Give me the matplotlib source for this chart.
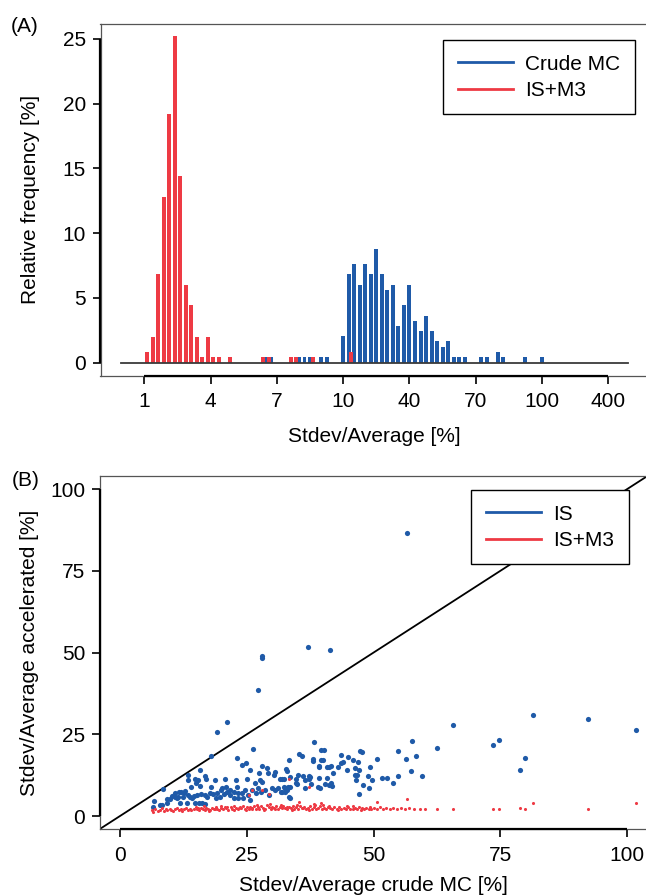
import matplotlib
matplotlib.use('Agg')
import matplotlib.pyplot as plt
from matplotlib.lines import Line2D

plt.rcParams['font.family'] = ['Liberation Sans', 'DejaVu Sans']
FS = 15
BLUE = '#1f5aa8'
RED = '#ee3a44'

# ---------------- Panel A data (histogram) ----------------
# x axis: linear within each decade, 3 tick units per decade, 12 bins per tick unit
hist_tick_labels = ['1', '4', '7', '10', '40', '70', '100', '400']
bins_per_tick = 12
crude_bins = [22, 23, 28, 29, 30, 32, 33, 36, 37, 38, 39, 40, 41, 42, 43, 44, 45, 46, 47,
              48, 49, 50, 51, 52, 53, 54, 55, 56, 57, 58, 61, 62, 64, 65, 69, 72]
crude_pct = [0.44, 0.44, 0.44, 0.44, 0.44, 0.44, 0.44, 2.04, 6.83, 7.62, 6.02, 7.62, 6.83,
             8.8, 6.83, 5.6, 6.02, 2.83, 4.43, 6.02, 3.24, 2.45, 3.63, 2.45, 1.65, 1.24,
             1.65, 0.44, 0.44, 0.44, 0.44, 0.44, 0.83, 0.44, 0.44, 0.44]
ism3_bins = [0, 1, 2, 3, 4, 5, 6, 7, 8, 9, 10, 11, 12, 13, 15, 21, 22, 26, 27, 30, 37]
ism3_pct = [0.83, 2.0, 6.83, 12.8, 19.2, 25.2, 14.4, 6.0, 4.43, 2.0, 0.44, 2.0, 0.44, 0.44,
            0.44, 0.44, 0.44, 0.44, 0.44, 0.44, 0.83]
hist_yticks = [0, 5, 10, 15, 20, 25]

# ---------------- Panel B data (scatter) ----------------
is_x = [56.6, 37.1, 41.4, 28.0, 28.1, 27.2, 21.2, 19.1, 65.6, 81.4, 92.4, 101.7, 73.6, 74.7,
        79.8, 78.9, 62.6, 57.5, 58.3, 54.9, 56.4, 57.3, 59.6, 54.8, 53.8, 52.6, 51.7, 50.6,
        49.8, 49.4, 49.1, 48.9, 47.9, 47.1, 47.4, 47.7, 47.0, 45.9, 44.9, 43.5, 44.0, 43.5,
        44.7, 42.9, 46.3, 47.1, 46.3, 46.7, 46.5, 42.0, 41.2, 41.6, 40.8, 39.3, 39.2, 39.6,
        40.1, 38.1, 38.1, 39.7, 40.2, 38.3, 35.3, 35.8, 33.3, 32.8, 32.9, 35.2, 36.0, 37.3,
        37.5, 37.3, 36.4, 34.7, 34.7, 34.9, 37.7, 36.5, 39.2, 40.8, 41.6, 41.2, 40.5, 41.9,
        39.1, 39.4, 33.5, 32.3, 31.6, 33.2, 33.5, 32.3, 32.6, 31.8, 33.6,
        26.2, 17.9, 23.1, 24.1, 24.9, 28.1, 28.9, 29.2, 27.5, 25.6, 30.3, 30.6, 15.8, 13.5,
        14.7, 15.3, 16.8, 18.7, 20.8, 22.8, 25.0, 26.6, 27.6, 28.1, 32.0, 32.5, 33.4, 8.4,
        6.8, 6.5, 7.9, 8.3, 9.3, 9.8, 10.3, 11.6, 12.0, 10.8, 11.3, 12.9, 12.5, 11.8, 13.4,
        13.8, 14.2, 13.3, 14.8, 15.5, 16.1, 16.8, 14.6, 15.1, 16.0, 16.7, 17.2, 17.8, 18.4,
        19.2, 19.0, 19.8, 20.6, 21.2, 21.7, 19.9, 20.2, 17.9,
        20.9, 21.7, 22.4, 23.0, 23.3, 24.0, 24.7, 25.3, 26.0, 26.8, 27.3, 27.9, 28.6, 29.3,
        29.9, 30.6, 31.1, 31.9, 32.9, 22.4, 23.3, 24.3, 25.6, 14.1, 15.0, 15.8, 17.0, 13.5,
        10.9, 12.6, 11.5, 9.2]
is_y = [86.7, 51.7, 50.9, 48.9, 48.2, 38.5, 28.7, 25.7, 27.9, 30.9, 29.8, 26.2, 21.6, 23.3,
        17.7, 14.2, 20.9, 23.1, 18.3, 19.9, 17.4, 13.8, 12.1, 12.1, 10.2, 11.5, 11.5, 17.4,
        10.9, 15.1, 8.7, 12.3, 9.4, 6.8, 19.8, 19.6, 16.6, 17.0, 18.0, 18.6, 16.4, 16.2,
        14.2, 14.9, 14.8, 14.1, 12.5, 12.7, 11.0, 13.2, 14.9, 15.3, 15.0, 15.3, 14.9, 17.1,
        17.2, 16.8, 17.3, 20.3, 20.3, 22.5, 18.9, 18.3, 17.0, 14.3, 13.9, 12.5, 12.2, 12.2,
        11.9, 11.2, 10.9, 11.3, 10.0, 9.8, 9.9, 8.5, 11.7, 11.6, 10.2, 9.4, 9.8, 9.2,
        9.0, 8.5, 11.9, 11.2, 11.2, 8.8, 9.0, 8.8, 7.2, 7.2, 5.5,
        20.5, 18.3, 17.7, 15.7, 16.3, 15.3, 14.7, 13.2, 13.2, 14.1, 12.5, 13.5, 14.2, 12.5,
        11.4, 11.0, 12.2, 11.0, 11.3, 11.0, 11.3, 10.0, 11.0, 10.4, 11.4, 8.7, 5.7, 8.4,
        4.7, 2.7, 3.4, 3.5, 5.1, 5.2, 6.1, 7.2, 7.4, 5.7, 5.4, 7.6, 5.9, 3.9, 6.4,
        5.9, 5.4, 4.1, 4.0, 4.0, 4.0, 3.8, 6.2, 6.4, 6.6, 6.4, 5.9, 7.1, 6.6,
        7.1, 5.4, 5.9, 6.6, 7.3, 6.4, 8.0, 8.5, 8.9,
        8.8, 8.0, 7.4, 9.0, 6.9, 6.9, 8.0, 6.4, 8.0, 6.9, 8.5, 7.4, 8.0, 6.4,
        8.5, 8.0, 8.5, 7.4, 8.0, 5.4, 5.4, 5.4, 4.9, 9.0, 10.0, 9.2, 11.2, 11.0,
        6.9, 6.9, 5.9, 3.9]

ism3_x = [6.3, 6.5, 7.0, 7.4, 7.9, 8.2, 8.6, 9.0, 9.3, 9.8, 10.1, 10.5, 10.9, 11.2, 11.6,
          12.0, 12.3, 12.7, 13.1, 13.4, 13.8, 14.1, 14.5, 14.9, 15.2, 15.6, 16.0, 16.3, 16.7,
          17.0, 17.4, 17.8, 18.1, 18.5, 18.9, 19.2, 19.6, 20.0, 20.3, 20.7, 21.0, 21.4, 21.8,
          22.1, 22.5, 22.8, 23.2, 23.6, 23.9, 24.3, 24.6, 25.0, 25.4, 25.7, 26.1, 26.4, 26.8,
          27.2, 27.5, 27.9, 28.2, 28.6, 29.0, 29.3, 29.7, 30.0, 30.4, 30.8, 31.1, 31.5, 31.9,
          32.2, 32.6, 33.0, 33.3, 33.7, 34.1, 34.4, 34.8, 35.2, 35.6, 35.9, 36.3, 36.7, 37.1,
          37.5, 37.9, 38.3, 38.7, 39.1, 39.5, 39.9, 40.3, 40.7, 41.1, 41.5, 41.9, 42.3, 42.8,
          43.2, 43.6, 44.1, 44.5, 45.0, 45.4, 45.9, 46.3, 46.8, 47.2, 47.7, 48.2, 48.6, 49.1,
          49.6, 50.1, 50.7, 51.3, 51.9, 52.5, 53.2, 53.9, 54.6, 55.4, 56.2, 57.1, 58.0, 59.1,
          60.2,
          15.4, 16.5, 17.6, 18.7, 19.9, 21.2, 22.4, 23.4, 24.8, 26.0, 27.0, 28.4, 29.5, 30.6,
          31.7, 32.9, 34.0, 35.0, 36.1, 37.3, 38.5, 40.0, 41.3, 43.0, 44.8, 46.0, 47.5, 49.3,
          35.3, 39.6, 50.6, 56.7, 38.3, 37.2, 33.3, 26.1, 25.5, 29.4, 28.1,
          62.5, 65.6, 73.6, 74.7, 78.9, 79.8, 81.4, 92.4, 101.7]
ism3_y = [1.9, 1.3, 2.2, 1.6, 1.8, 2.4, 1.5, 2.0, 1.7, 2.3, 1.9, 1.6, 2.1, 2.5, 1.8,
          2.2, 1.6, 2.0, 2.6, 1.9, 2.3, 1.7, 2.1, 2.8, 2.0, 1.8, 2.4, 2.1, 1.7,
          2.6, 2.2, 1.9, 2.5, 2.0, 2.9, 2.3, 1.8, 2.6, 2.1, 2.8, 2.4, 1.9, 2.7,
          2.2, 3.0, 2.5, 2.0, 2.8, 2.4, 3.1, 2.2, 2.7, 2.0, 2.9, 2.5, 3.2, 2.3,
          2.8, 2.1, 3.0, 2.6, 2.2, 3.3, 2.7, 2.3, 2.9, 2.5, 3.1, 2.2, 2.8, 2.4,
          3.0, 2.6, 2.1, 2.9, 2.5, 3.2, 2.3, 2.7, 2.0, 3.0, 2.4, 2.8, 2.2, 2.6,
          3.1, 2.3, 2.7, 2.0, 2.5, 3.0, 2.2, 2.6, 2.1, 2.9, 2.4, 2.0, 2.7, 2.3,
          2.9, 2.1, 2.5, 2.2, 2.8, 2.3, 2.0, 2.6, 2.2, 2.9, 2.4, 2.1, 2.6, 2.3,
          2.0, 2.5, 2.2, 2.7, 2.1, 2.4, 2.0, 2.6, 2.2, 2.4, 2.1, 2.5, 2.0, 2.3,
          2.1,
          2.5, 3.0, 1.6, 2.2, 3.1, 2.9, 1.8, 2.6, 1.9, 2.1, 3.3, 1.9, 3.6, 2.0,
          3.4, 2.7, 1.9, 3.5, 2.6, 1.9, 3.4, 3.3, 3.2, 1.8, 3.1, 3.2, 1.9, 2.8,
          4.3, 4.0, 4.2, 5.1, 3.8, 8.8, 11.4, 8.0, 6.4, 6.6, 8.0,
          2.2, 2.0, 2.0, 2.0, 2.4, 2.2, 4.1, 2.0, 3.9]
scatter_ticks = [0, 25, 50, 75, 100]


def r_axis_lines(ax, xr, yr):
    """R-style axis lines spanning the tick range, plus a grey box."""
    for s in ax.spines.values():
        s.set_color('#555555')
        s.set_linewidth(0.9)
    x0, x1 = ax.get_xlim()
    y0, y1 = ax.get_ylim()
    ax.plot([x0, x0], yr, color='black', lw=1.6, clip_on=False, zorder=6,
            solid_capstyle='butt')
    ax.plot(xr, [y0, y0], color='black', lw=1.6, clip_on=False, zorder=6,
            solid_capstyle='butt')
    ax.tick_params(direction='out', length=5.5, width=1.2, labelsize=FS, color='black')


fig = plt.figure(figsize=(6.46, 8.96), dpi=100)

# ---------------- Panel A ----------------
axA = fig.add_axes([100.5 / 646, 1 - 375.6 / 896, 547.8 / 646, 351.5 / 896])
crude_t = [k / bins_per_tick for k in crude_bins]
ism3_t = [(k + 0.5) / bins_per_tick for k in ism3_bins]
bw = 0.06
axA.bar(crude_t, crude_pct, width=bw, color=BLUE, zorder=2)
axA.bar(ism3_t, ism3_pct, width=bw, color=RED, zorder=3)
axA.plot([-0.355, 7.297], [0, 0], color='#3a3a3a', lw=1.3, zorder=4)
axA.set_xlim(-0.661, 7.603)
axA.set_ylim(-1.0, 26.15)
axA.set_xticks(range(len(hist_tick_labels)))
axA.set_xticklabels(hist_tick_labels)
axA.set_yticks(hist_yticks)
r_axis_lines(axA, [0, len(hist_tick_labels) - 1], [hist_yticks[0], hist_yticks[-1]])
axA.tick_params(axis='x', pad=6)
axA.tick_params(axis='y', pad=5)
axA.set_xlabel('Stdev/Average [%]', fontsize=FS, labelpad=12)
axA.set_ylabel('Relative frequency [%]', fontsize=FS, labelpad=16)
legA = axA.legend(handles=[Line2D([], [], color=BLUE, lw=2),
                           Line2D([], [], color=RED, lw=2)],
                  labels=['Crude MC', 'IS+M3'], loc='upper right',
                  bbox_to_anchor=(0.9757, 0.9548), borderaxespad=0, fontsize=FS,
                  fancybox=False, framealpha=1, edgecolor='black',
                  handlelength=2.64, handletextpad=0.6, borderpad=0.7,
                  labelspacing=0.35)
legA.get_frame().set_linewidth(1.0)
legA.set_zorder(10)

# ---------------- Panel B ----------------
axB = fig.add_axes([99.7 / 646, 1 - 829.1 / 896, 547.6 / 646, 353.0 / 896])
axB.axline((0, 0), (1, 1), color='black', lw=1.3, zorder=1)
axB.scatter(is_x, is_y, s=14, color=BLUE, linewidths=0, zorder=3)
axB.scatter(ism3_x, ism3_y, s=5, color=RED, linewidths=0, zorder=4)
axB.set_xlim(-4, 104)
axB.set_ylim(-4, 104)
axB.set_xticks(scatter_ticks)
axB.set_yticks(scatter_ticks)
r_axis_lines(axB, [0, 100], [0, 100])
axB.tick_params(axis='x', pad=6.5)
axB.tick_params(axis='y', pad=5)
axB.set_xlabel('Stdev/Average crude MC [%]', fontsize=FS, labelpad=8)
axB.set_ylabel('Stdev/Average accelerated [%]', fontsize=FS, labelpad=8)
legB = axB.legend(handles=[Line2D([], [], color=BLUE, lw=2),
                           Line2D([], [], color=RED, lw=2)],
                  labels=['IS', 'IS+M3'], loc='upper right',
                  bbox_to_anchor=(0.9666, 0.9606), borderaxespad=0, fontsize=FS,
                  fancybox=False, framealpha=1, edgecolor='black',
                  handlelength=2.64, handletextpad=0.6, borderpad=0.7,
                  labelspacing=0.35)
legB.get_frame().set_linewidth(1.0)
legB.set_zorder(10)

fig.text(11 / 646, 1 - 27 / 896, '(A)', fontsize=FS, va='center', ha='left')
fig.text(12 / 646, 1 - 480 / 896, '(B)', fontsize=FS, va='center', ha='left')

fig.savefig('out.png', dpi=100)
